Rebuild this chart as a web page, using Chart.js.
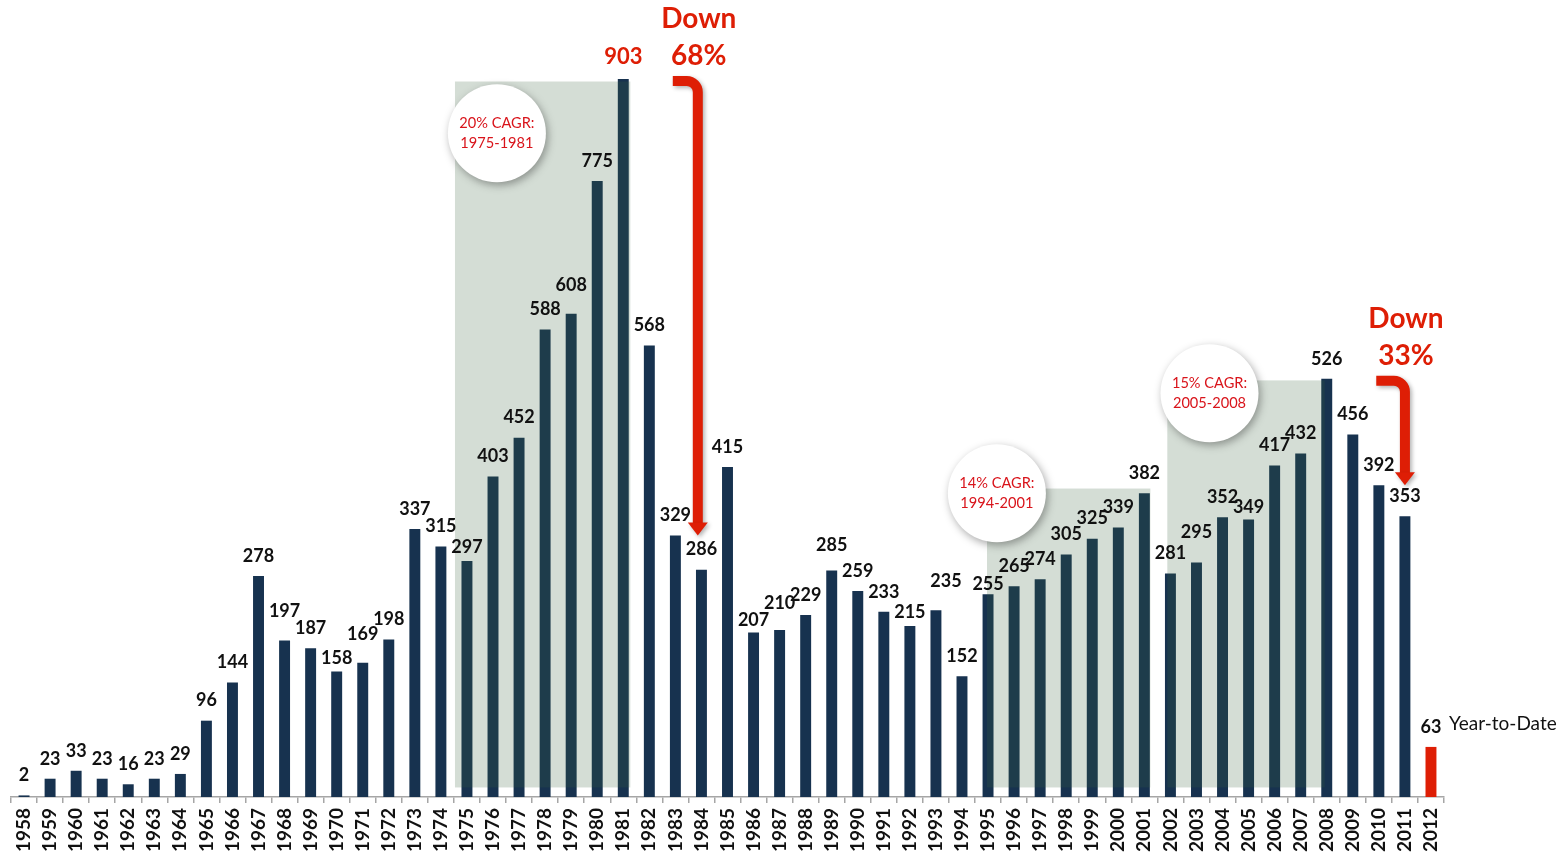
<!DOCTYPE html>
<html><head><meta charset="utf-8">
<script src="https://cdn.jsdelivr.net/npm/chart.js@4.4.0/dist/chart.umd.min.js"></script>
<style>html,body{margin:0;padding:0;background:#fff;overflow:hidden}canvas{display:block}</style>
</head><body>
<canvas id="c" width="1566" height="853"></canvas>
<script>
// ---- data ----
const years = ['1958','1959','1960','1961','1962','1963','1964','1965','1966','1967','1968','1969','1970','1971','1972','1973','1974','1975','1976','1977','1978','1979','1980','1981','1982','1983','1984','1985','1986','1987','1988','1989','1990','1991','1992','1993','1994','1995','1996','1997','1998','1999','2000','2001','2002','2003','2004','2005','2006','2007','2008','2009','2010','2011','2012'];
const ipoCounts = [2,23,33,23,16,23,29,96,144,278,197,187,158,169,198,337,315,297,403,452,588,608,775,903,568,329,286,415,207,210,229,285,259,233,215,235,152,255,265,274,305,325,339,382,281,295,352,349,417,432,526,456,392,353,63];
const ytdYear = '2012';
const ytdText = 'Year-to-Date';
const cagrText = [['20% CAGR:','1975-1981'],['14% CAGR:','1994-2001'],['15% CAGR:','2005-2008']];
const dropText = [['Down','68%'],['Down','33%']];
const dropYears = [['1981','1983','1984'],['2008','2010','2011']]; // peak, from, to

// ---- layout / style (not data) ----
const NAVY = '#17324f', RED = '#de1e05', TEXTRED = '#d9141b';
const shadeSpans = [
  {from:'1975', dl:-0.46, to:'1981', dr:0.27, top:900},
  {from:'1995', dl:-0.04, to:'2001', dr:0.23, top:388},
  {from:'2002', dl:-0.12, to:'2008', dr:-0.08, top:524}
];
const bubblePos = [{yr:'1976', dx:0.15, v:835},{yr:'1995', dx:0.34, v:382},{yr:'2003', dx:0.5, v:508}];
const labelNudge = {'1968':[0,-9],'1970':[0,7],'1971':[0,-8],'1975':[0,6],'1979':[0,-8],'1986':[0,8],'1987':[0,-7],'1989':[0,-5],'1992':[0,6],'1993':[10,-9],'1995':[0,10],'2003':[0,-10],'2005':[0,8]};

const annot = {
  id:'annot',
  afterDatasetsDraw(chart){
    const {ctx, scales:{x, y}} = chart;
    const idx = yr => years.indexOf(yr);
    const px = (yr, d) => x.getPixelForValue(idx(yr) + d);
    const py = v => y.getPixelForValue(v);
    ctx.save();
    // shaded CAGR periods
    ctx.fillStyle = 'rgba(56,97,60,0.215)';
    shadeSpans.forEach(s => {
      const l = px(s.from, s.dl), r = px(s.to, s.dr), t = py(s.top), b = py(12);
      ctx.fillRect(l, t, r - l, b - t);
    });
    // bubbles
    bubblePos.forEach((b, i) => {
      const cx = px(b.yr, b.dx), cy = py(b.v);
      ctx.save();
      ctx.shadowColor = 'rgba(0,0,0,0.35)'; ctx.shadowBlur = 8; ctx.shadowOffsetX = 2; ctx.shadowOffsetY = 3;
      ctx.beginPath(); ctx.arc(cx, cy, 49, 0, Math.PI*2); ctx.fillStyle = '#fff'; ctx.fill();
      ctx.restore();
      ctx.fillStyle = TEXTRED; ctx.font = '14.6px Lato'; ctx.textAlign = 'center'; ctx.textBaseline = 'middle';
      ctx.fillText(cagrText[i][0], cx, cy - 10);
      ctx.fillText(cagrText[i][1], cx, cy + 10);
    });
    // value labels
    const meta = chart.getDatasetMeta(0);
    ctx.textAlign = 'center'; ctx.textBaseline = 'middle';
    meta.data.forEach((bar, i) => {
      const yr = years[i];
      const n = labelNudge[yr] || [0,0];
      const isPeak = yr === '1981';
      ctx.font = isPeak ? 'bold 22px Lato' : 'bold 18px Lato';
      ctx.fillStyle = isPeak ? RED : '#111';
      ctx.fillText(String(ipoCounts[i]), bar.x + n[0], bar.y - (isPeak ? 22 : 20) + n[1]);
      if (yr === ytdYear) {
        ctx.font = '19px Lato'; ctx.fillStyle = '#111'; ctx.textAlign = 'left';
        ctx.fillText(ytdText, bar.x + 18, bar.y - 23);
        ctx.textAlign = 'center';
      }
    });
    // drop arrows
    dropYears.forEach((d, k) => {
      const peak = ipoCounts[idx(d[0])];
      const tipV = ipoCounts[idx(d[1])];
      const x0 = px(d[1], -0.1), x1 = px(d[2], k === 0 ? -0.14 : 0);
      const yt = py(peak) + 2, ytip = py(tipV);
      ctx.save();
      ctx.shadowColor = 'rgba(0,0,0,0.3)'; ctx.shadowBlur = 4; ctx.shadowOffsetX = 2; ctx.shadowOffsetY = 2;
      ctx.strokeStyle = RED; ctx.fillStyle = RED; ctx.lineWidth = 10; ctx.lineCap = 'butt';
      const r = 11;
      ctx.beginPath();
      ctx.moveTo(x0, yt); ctx.lineTo(x1 - r, yt);
      ctx.arcTo(x1, yt, x1, yt + r, r);
      ctx.lineTo(x1, ytip - 12);
      ctx.stroke();
      ctx.beginPath();
      ctx.moveTo(x1 - 10, ytip - 13); ctx.lineTo(x1 + 10, ytip - 13); ctx.lineTo(x1, ytip); ctx.closePath(); ctx.fill();
      ctx.restore();
      ctx.fillStyle = RED; ctx.font = 'bold 28px Lato'; ctx.textAlign = 'center'; ctx.textBaseline = 'middle';
      ctx.fillText(dropText[k][0], x1 + 1, yt - 62);
      ctx.fillText(dropText[k][1], x1 + 1, yt - 25);
    });
    ctx.restore();
  }
};

new Chart(document.getElementById('c'), {
  type: 'bar',
  data: {
    labels: years,
    datasets: [{
      data: ipoCounts,
      backgroundColor: years.map(yr => yr === ytdYear ? RED : NAVY),
      barPercentage: 0.42,
      categoryPercentage: 1
    }]
  },
  options: {
    responsive: false,
    animation: false,
    layout: {padding: {left: 11, right: 122, top: 2, bottom: 0}},
    plugins: {legend: {display: false}, tooltip: {enabled: false}},
    scales: {
      x: {
        grid: {offset: true, drawOnChartArea: false, drawTicks: true, tickLength: 6, color: '#a6a6a6', lineWidth: 1.5},
        border: {display: true, color: '#a6a6a6', width: 1.5},
        ticks: {minRotation: 90, maxRotation: 90, autoSkip: false, padding: 5, color: '#111', font: {family: 'Lato', weight: 'bold', size: 19}},
        afterFit(s) { s.height = 56; }
      },
      y: {display: false, min: 0, max: 1000}
    }
  },
  plugins: [annot]
});
</script>
</body></html>
